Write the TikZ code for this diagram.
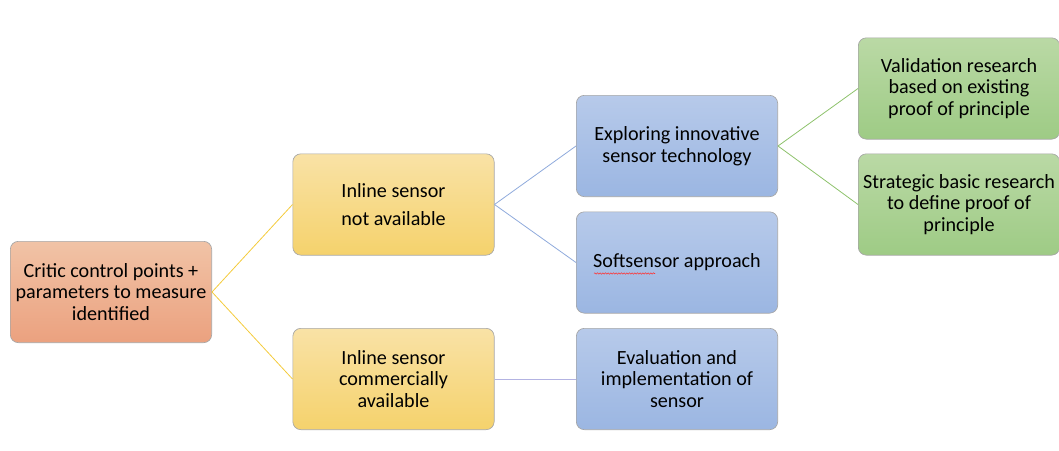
\documentclass[tikz,border=0pt]{standalone}
\usepackage{fontspec}
\setmainfont{Carlito}
\usetikzlibrary{decorations.pathmorphing}

\definecolor{orangetop}{HTML}{F1C3A6}
\definecolor{orangebot}{HTML}{EBA17F}
\definecolor{yellowtop}{HTML}{F9E2A6}
\definecolor{yellowbot}{HTML}{F5D26C}
\definecolor{bluetop}{HTML}{B7CAEA}
\definecolor{bluebot}{HTML}{9BB6E2}
\definecolor{greentop}{HTML}{BAD9A5}
\definecolor{greenbot}{HTML}{9ECB85}
\definecolor{yellowline}{HTML}{F4CB3C}
\definecolor{blueline}{HTML}{8FAADC}
\definecolor{greenline}{HTML}{8DC26B}
\definecolor{lilacline}{HTML}{B3B3E2}

\tikzset{
  box/.style={draw=gray!70, line width=0.5pt, rounded corners=6pt,
    minimum width=151pt, minimum height=76pt, align=center, inner sep=1pt,
    font=\fontsize{15.1}{16.2}\selectfont},
  rootbox/.style={box, top color=orangetop, bottom color=orangebot},
  ybox/.style={box, top color=yellowtop, bottom color=yellowbot},
  bbox/.style={box, top color=bluetop, bottom color=bluebot},
  gbox/.style={box, top color=greentop, bottom color=greenbot},
}

\begin{document}
\begin{tikzpicture}[x=0.75pt,y=-0.75pt]
\useasboundingbox (0,0) rectangle (1059,450);

% Root
      \node[rootbox] (root) at (111,292) {Critic control points +\\parameters to measure\\identified};
% Inline sensor
      \node[ybox] (notavail) at (393.5,204.5) {Inline sensor\\[5pt]not available};
      \node[ybox] (commavail) at (393.5,379) {Inline sensor\\commercially\\available};
% Approaches
      \node[bbox] (explore) at (677,146) {Exploring innovative\\sensor technology};
      \node[bbox] (soft) at (677,262.5) {Softsensor approach};
      \node[bbox] (evaluate) at (677,379) {Evaluation and\\implementation of\\sensor};
% Research
      \node[gbox] (valid) at (959,88.5) {Validation research\\based on existing\\proof of principle};
      \node[gbox] (strategic) at (959,204.5) {Strategic basic research\\to define proof of\\principle};

% Connectors
      \begin{scope}[line width=0.6pt]
        \draw[yellowline] (root.east) -- (notavail.west);
        \draw[yellowline] (root.east) -- (commavail.west);
        \draw[blueline] (notavail.east) -- (explore.west);
        \draw[blueline] (notavail.east) -- (soft.west);
        \draw[lilacline] (commavail.east) -- (evaluate.west);
        \draw[greenline] (explore.east) -- (valid.west);
        \draw[greenline] (explore.east) -- (strategic.west);
      \end{scope}
% spell check mark
      \draw[red!80, line width=0.4pt, decorate,
        decoration={snake, amplitude=0.5pt, segment length=2pt}]
        (594,273.5) -- (655,273.5);

\end{tikzpicture}
\end{document}
